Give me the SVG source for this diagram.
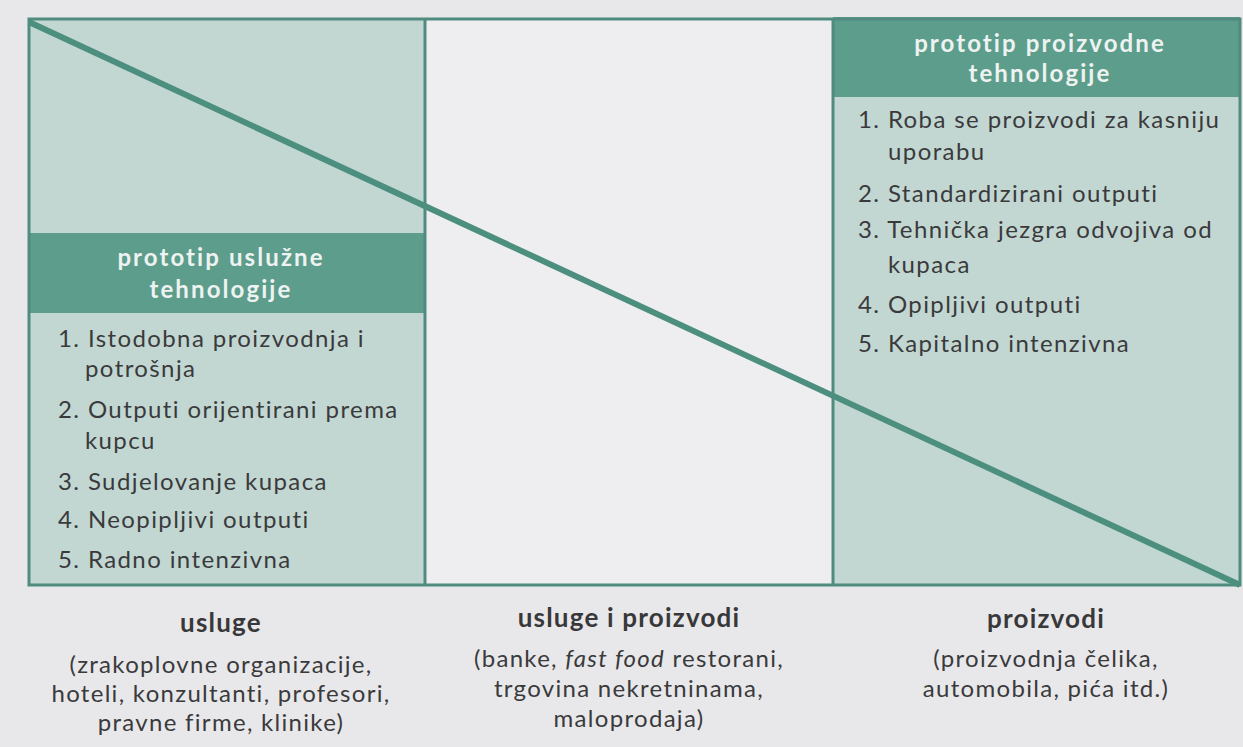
<svg xmlns="http://www.w3.org/2000/svg" width="1243" height="747" viewBox="0 0 1243 747">
<style>
.page{fill:#e8e8ea}
.col{fill:#c2d7d2}
.band{fill:#5d9d8c}
.frame{fill:none;stroke:#4f8b7e;stroke-width:3}
.diag{stroke:#4c8f7f;stroke-width:6;stroke-linecap:butt}
.hd{font-family:Lato,"Open Sans",sans-serif;font-weight:700;font-size:24px;letter-spacing:2.1px;fill:#eef3f1;text-anchor:middle}
.li{font-family:Lato,"Open Sans",sans-serif;font-size:24px;letter-spacing:1.4px;fill:#3a3a3c}
.cat{font-family:Lato,"Open Sans",sans-serif;font-weight:700;font-size:26px;letter-spacing:1.2px;fill:#38383a;text-anchor:middle}
.ex{font-family:Lato,"Open Sans",sans-serif;font-size:24px;letter-spacing:1.3px;fill:#3a3a3c;text-anchor:middle}
</style>
<rect class="page" x="0" y="0" width="1243" height="747"/>
<g id="left-column">
<rect class="col" x="29" y="19" width="396" height="566"/>
<rect class="band" x="29" y="233" width="396" height="80"/>
<text class="hd" x="221" y="266">prototip uslužne</text>
<text class="hd" x="221" y="298">tehnologije</text>
<text class="li" x="58" y="347">1. Istodobna proizvodnja i</text>
<text class="li" x="85" y="377">potrošnja</text>
<text class="li" x="58" y="418">2. Outputi orijentirani prema</text>
<text class="li" x="85" y="449">kupcu</text>
<text class="li" x="58" y="490">3. Sudjelovanje kupaca</text>
<text class="li" x="58" y="528">4. Neopipljivi outputi</text>
<text class="li" x="58" y="568">5. Radno intenzivna</text>
</g>
<g id="middle-column">
<rect x="425" y="19" width="408" height="566" fill="#eeeef0"/>
</g>
<g id="right-column">
<rect class="col" x="833" y="19" width="407" height="566"/>
<rect class="band" x="833" y="17" width="407" height="80"/>
<text class="hd" x="1040" y="52">prototip proizvodne</text>
<text class="hd" x="1040" y="82">tehnologije</text>
<text class="li" x="858" y="128">1. Roba se proizvodi za kasniju</text>
<text class="li" x="888" y="160">uporabu</text>
<text class="li" x="858" y="202">2. Standardizirani outputi</text>
<text class="li" x="858" y="238">3. Tehnička jezgra odvojiva od</text>
<text class="li" x="888" y="273">kupaca</text>
<text class="li" x="858" y="313">4. Opipljivi outputi</text>
<text class="li" x="858" y="352">5. Kapitalno intenzivna</text>
</g>
<g id="connectors">
<rect class="frame" x="29" y="19" width="1211" height="566"/>
<line class="frame" x1="425" y1="19" x2="425" y2="585"/>
<line class="frame" x1="833" y1="19" x2="833" y2="585"/>
<line class="diag" x1="29" y1="22" x2="1240" y2="585"/>
</g>
<g id="label-usluge">
<text class="cat" x="221" y="632">usluge</text>
<text class="ex" x="221" y="673">(zrakoplovne organizacije,</text>
<text class="ex" x="221" y="702">hoteli, konzultanti, profesori,</text>
<text class="ex" x="221" y="731">pravne firme, klinike)</text>
</g>
<g id="label-usluge-proizvodi">
<text class="cat" x="629" y="627">usluge i proizvodi</text>
<text class="ex" x="629" y="667">(banke, <tspan font-style="italic">fast food</tspan> restorani,</text>
<text class="ex" x="629" y="697">trgovina nekretninama,</text>
<text class="ex" x="629" y="727">maloprodaja)</text>
</g>
<g id="label-proizvodi">
<text class="cat" x="1046" y="628">proizvodi</text>
<text class="ex" x="1046" y="667">(proizvodnja čelika,</text>
<text class="ex" x="1046" y="697">automobila, pića itd.)</text>
</g>
</svg>
